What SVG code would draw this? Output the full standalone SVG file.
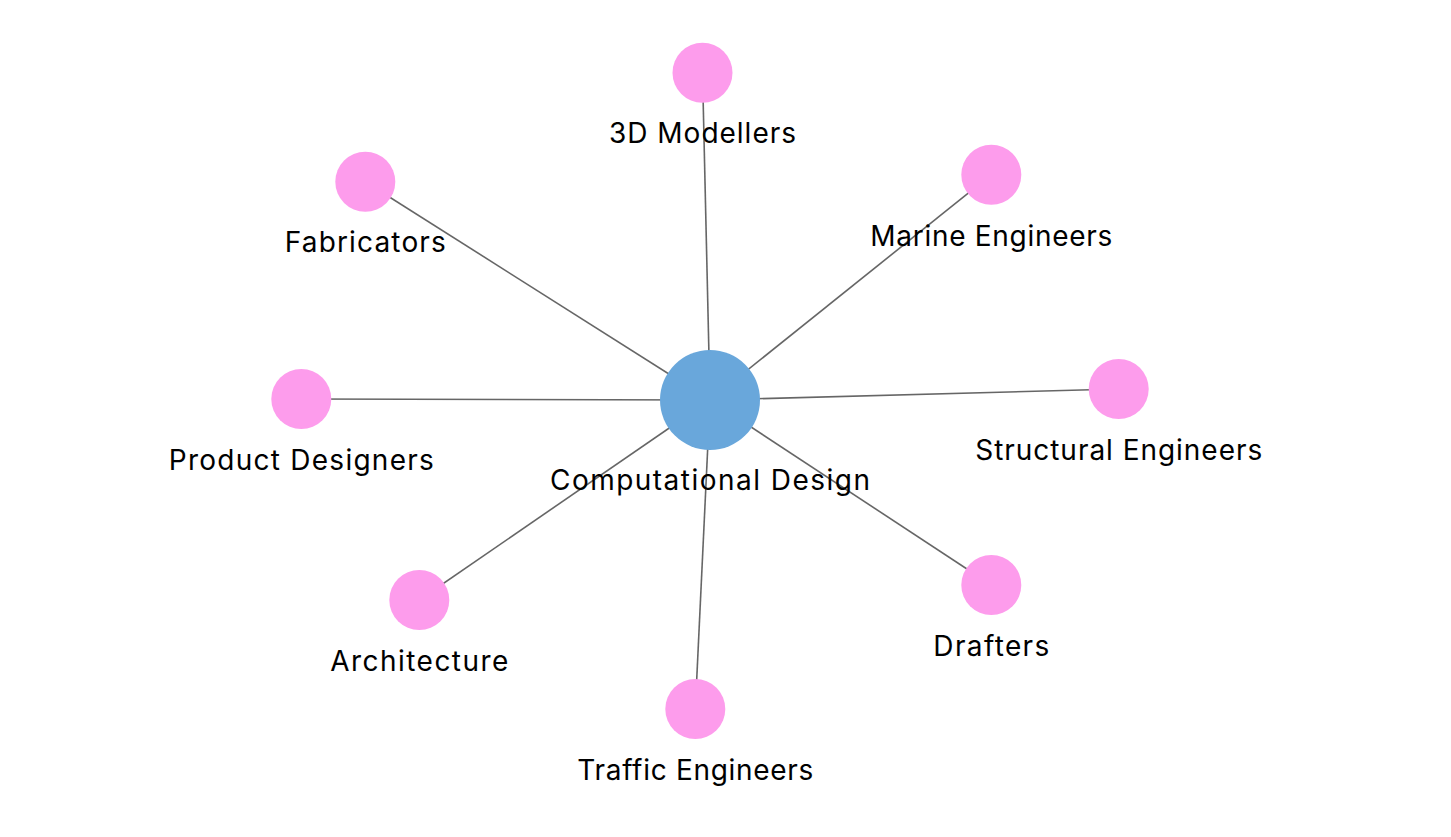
<svg xmlns="http://www.w3.org/2000/svg" width="1451" height="837" viewBox="0 0 1451 837">
<style>
.edge{stroke:#666666;stroke-width:1.6;fill:none}
.leaf{fill:#FD9CEC}
.hub{fill:#69A7DB}
.lbl{font-family:Inter,"Liberation Sans",sans-serif;font-size:28px;fill:#000;text-anchor:middle}
</style>
<rect width="1451" height="837" fill="#fff"/>
<g id="connectors">
<line class="edge" x1="710" y1="400" x2="702.5" y2="72.7"/>
<line class="edge" x1="710" y1="400" x2="365.3" y2="181.7"/>
<line class="edge" x1="710" y1="400" x2="991.3" y2="174.7"/>
<line class="edge" x1="710" y1="400" x2="301.3" y2="399"/>
<line class="edge" x1="710" y1="400" x2="1118.7" y2="389"/>
<line class="edge" x1="710" y1="400" x2="419.3" y2="600"/>
<line class="edge" x1="710" y1="400" x2="991.3" y2="585"/>
<line class="edge" x1="710" y1="400" x2="695.3" y2="709"/>
</g>
<g id="computational-design"><circle class="hub" cx="710" cy="400" r="50"/><text class="lbl" x="710" y="490" textLength="320">Computational Design</text></g>
<g id="3d-modellers"><circle class="leaf" cx="702.5" cy="72.7" r="30"/><text class="lbl" x="702.5" y="143.3" textLength="187">3D Modellers</text></g>
<g id="fabricators"><circle class="leaf" cx="365.3" cy="181.7" r="30"/><text class="lbl" x="365.3" y="252" textLength="161">Fabricators</text></g>
<g id="marine-engineers"><circle class="leaf" cx="991.3" cy="174.7" r="30"/><text class="lbl" x="991.3" y="246" textLength="242">Marine Engineers</text></g>
<g id="product-designers"><circle class="leaf" cx="301.3" cy="399" r="30"/><text class="lbl" x="301.3" y="470" textLength="265">Product Designers</text></g>
<g id="structural-engineers"><circle class="leaf" cx="1118.7" cy="389" r="30"/><text class="lbl" x="1118.7" y="460" textLength="287">Structural Engineers</text></g>
<g id="architecture"><circle class="leaf" cx="419.3" cy="600" r="30"/><text class="lbl" x="419.3" y="671" textLength="178">Architecture</text></g>
<g id="drafters"><circle class="leaf" cx="991.3" cy="585" r="30"/><text class="lbl" x="991.3" y="656" textLength="116">Drafters</text></g>
<g id="traffic-engineers"><circle class="leaf" cx="695.3" cy="709" r="30"/><text class="lbl" x="695.3" y="780" textLength="236">Traffic Engineers</text></g>
</svg>
